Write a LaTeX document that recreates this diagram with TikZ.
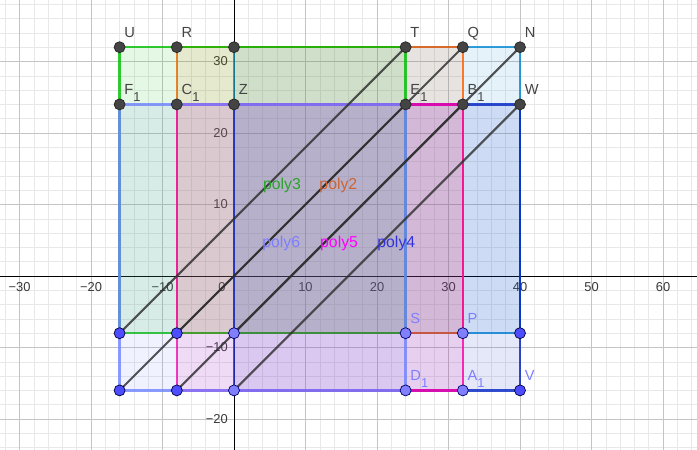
\documentclass[tikz,border=0pt]{standalone}
\usepackage{fontspec}
\setmainfont{Liberation Sans}
\usetikzlibrary{calc}

\definecolor{polyone}{RGB}{0,135,211}
\definecolor{polytwo}{RGB}{255,95,0}
\definecolor{polythree}{RGB}{0,191,0}
\definecolor{polyfour}{RGB}{0,35,196}
\definecolor{polyfive}{RGB}{255,0,169}
\definecolor{polysix}{RGB}{111,131,255}
\definecolor{ptgray}{RGB}{68,68,68}
\definecolor{ptblue}{RGB}{77,77,255}
\definecolor{ptlight}{RGB}{128,128,255}
\definecolor{lblgray}{RGB}{68,68,68}
\definecolor{lblblue}{RGB}{125,125,255}
\definecolor{gridminor}{RGB}{232,232,232}
\definecolor{gridmajor}{RGB}{196,196,196}

% letter with a lowered index, as the labels show it
\newcommand{\lsub}[2]{#1\raisebox{-5.5pt}{\fontsize{11}{11}\selectfont #2}}

\begin{document}
\begin{tikzpicture}[
        x=0.2145cm,
        y=0.2145cm,
        poly/.style={
            line width=2.1pt,
            draw opacity=0.8,
            fill opacity=0.1
        },
        diag/.style={
            line width=1.8pt,
            draw=black!82,
            draw opacity=0.82
        },
        ptdark/.style={
            circle,
            draw=black!85,
            fill=ptgray,
            line width=0.6pt,
            minimum size=0.33cm,
            inner sep=0pt
        },
        ptblue/.style={ptdark, fill=ptblue, draw=black!75!blue},
        ptlight/.style={ptdark, fill=ptlight, draw=black!60!blue},
        lbl/.style={
            anchor=base west,
            font=\fontsize{12.5}{14}\selectfont,
            text=lblgray,
            inner sep=0pt
        },
        tick/.style={
            font=\fontsize{11}{12}\selectfont,
            text=black!78,
            inner sep=0pt
        },
        polylbl/.style={
            font=\fontsize{13.5}{15}\selectfont,
            inner sep=0pt
        }
    ]
    \useasboundingbox[fill=white] (-32.727,-24.336) rectangle (64.755,38.601);

    % grid and axes
    \draw[gridminor, line width=0.4pt, step=2] (-32.727,-24.336) grid (64.755,38.601);
    \draw[gridmajor, line width=0.6pt, step=10] (-32.727,-24.336) grid (64.755,38.601);
    \draw[black, line width=0.6pt] (-32.727,0) -- (64.755,0);
    \draw[black, line width=0.6pt] (0,-24.336) -- (0,38.601);

    \foreach \x/\t in {-30/−30, -20/−20, -10/−10, 10/10, 20/20, 30/30, 40/40, 50/50, 60/60}
        \node[tick] (xt\x) at (\x,-1.55) {\t};
    \node[tick] (xt0) at (-1.7,-1.55) {0};
    \foreach \y/\t in {-20/−20, -10/−10, 10/10, 20/20, 30/30}
        \node[tick, anchor=east] (yt\y) at (-0.85,\y) {\t};

    % vertices
    \coordinate (U) at (-16,32);
    \coordinate (R) at (-8,32);
    \coordinate (Z0) at (0,32);
    \coordinate (T) at (24,32);
    \coordinate (Q) at (32,32);
    \coordinate (N) at (40,32);
    \coordinate (F1) at (-16,24);
    \coordinate (C1) at (-8,24);
    \coordinate (Z) at (0,24);
    \coordinate (E1) at (24,24);
    \coordinate (B1) at (32,24);
    \coordinate (W) at (40,24);
    \coordinate (H1) at (-16,-8);
    \coordinate (H2) at (-8,-8);
    \coordinate (H3) at (0,-8);
    \coordinate (S) at (24,-8);
    \coordinate (P) at (32,-8);
    \coordinate (H4) at (40,-8);
    \coordinate (L1) at (-16,-16);
    \coordinate (L2) at (-8,-16);
    \coordinate (L3) at (0,-16);
    \coordinate (D1) at (24,-16);
    \coordinate (A1) at (32,-16);
    \coordinate (V) at (40,-16);

    % polygons
    \draw[poly, draw=polyone, fill=polyone] (Z0) -- (N) -- (H4) -- (H3) -- cycle;
    \draw[poly, draw=polytwo, fill=polytwo] (R) -- (Q) -- (P) -- (H2) -- cycle;
    \draw[poly, draw=polythree, fill=polythree] (U) -- (T) -- (S) -- (H1) -- cycle;
    \draw[poly, draw=polyfour, fill=polyfour] (Z) -- (W) -- (V) -- (L3) -- cycle;
    \draw[poly, draw=polyfive, fill=polyfive] (C1) -- (B1) -- (A1) -- (L2) -- cycle;
    \draw[poly, draw=polysix, fill=polysix] (F1) -- (E1) -- (D1) -- (L1) -- cycle;

    % slanted segments
    \draw[diag] (H1) -- (T);
    \draw[diag] (L1) -- (E1);
    \draw[diag] (H2) -- (Q);
    \draw[diag] (L2) -- (B1);
    \draw[diag] (H3) -- (N);
    \draw[diag] (L3) -- (W);

    % points
    \foreach \n in {U,R,Z0,T,Q,N,F1,C1,Z,E1,B1,W}
        \node[ptdark] (\n-pt) at (\n) {};
    \foreach \n in {H1,H2,H4,L1,L2,V}
        \node[ptblue] (\n-pt) at (\n) {};
    \foreach \n in {H3,S,P,L3,D1,A1}
        \node[ptlight] (\n-pt) at (\n) {};

    % point labels
    \foreach \n/\t in {U/U, R/R, T/T, Q/Q, N/N, F1/{\lsub{F}{1}}, C1/{\lsub{C}{1}},
                       Z/Z, E1/{\lsub{E}{1}}, B1/{\lsub{B}{1}}, W/W}
        \node[lbl] (\n-lbl) at ([shift={(0.65,1.35)}]\n) {\t};
    \foreach \n/\t in {S/S, P/P, D1/{\lsub{D}{1}}, A1/{\lsub{A}{1}}, V/V}
        \node[lbl, text=lblblue] (\n-lbl) at ([shift={(0.65,1.35)}]\n) {\t};

    % polygon names
    \node[polylbl, text={rgb,255:red,40;green,165;blue,40}] (poly3) at (6.7,12.7) {poly3};
    \node[polylbl, text={rgb,255:red,205;green,100;blue,50}] (poly2) at (14.6,12.7) {poly2};
    \node[polylbl, text=lblblue] (poly6) at (6.6,4.6) {poly6};
    \node[polylbl, text={rgb,255:red,255;green,0;blue,255}] (poly5) at (14.7,4.6) {poly5};
    \node[polylbl, text={rgb,255:red,50;green,50;blue,220}] (poly4) at (22.7,4.6) {poly4};
\end{tikzpicture}
\end{document}
